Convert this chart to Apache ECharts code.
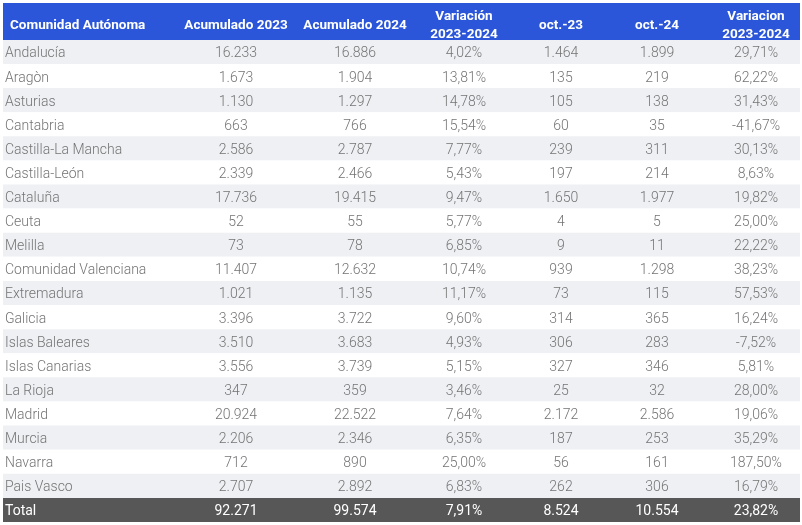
<!DOCTYPE html>
<html><head><meta charset="utf-8">
<script src="https://cdn.jsdelivr.net/npm/echarts@6/dist/echarts.min.js"></script>
<style>html,body{margin:0;padding:0;background:#fff}#c{width:802px;height:525px}</style>
</head><body><div id="c"></div>
<script>
const headers = ['Comunidad Autónoma','Acumulado 2023','Acumulado 2024','Variación\n2023-2024','oct.-23','oct.-24','Variacion\n2023-2024'];
const regions = ['Andalucía','Aragòn','Asturias','Cantabria','Castilla-La Mancha','Castilla-León','Cataluña','Ceuta','Melilla','Comunidad Valenciana','Extremadura','Galicia','Islas Baleares','Islas Canarias','La Rioja','Madrid','Murcia','Navarra','Pais Vasco','Total'];
const acum2023 = [16233,1673,1130,663,2586,2339,17736,52,73,11407,1021,3396,3510,3556,347,20924,2206,712,2707,92271];
const acum2024 = [16886,1904,1297,766,2787,2466,19415,55,78,12632,1135,3722,3683,3739,359,22522,2346,890,2892,99574];
const varAcum = [4.02,13.81,14.78,15.54,7.77,5.43,9.47,5.77,6.85,10.74,11.17,9.60,4.93,5.15,3.46,7.64,6.35,25.00,6.83,7.91];
const oct23 = [1464,135,105,60,239,197,1650,4,9,939,73,314,306,327,25,2172,187,56,262,8524];
const oct24 = [1899,219,138,35,311,214,1977,5,11,1298,115,365,283,346,32,2586,253,161,306,10554];
const varOct = [29.71,62.22,31.43,-41.67,30.13,8.63,19.82,25.00,22.22,38.23,57.53,16.24,-7.52,5.81,28.00,19.06,35.29,187.50,16.79,23.82];

// layout (styling, not data)
const colX = [2, 233, 352, 461, 558, 654, 753];
const headFirstX = 7;
const headerUnits = 1.53;
const totalWidth = 797;

function fmtInt(n){ const s=String(Math.abs(n)); const r=s.replace(/\B(?=(\d{3})+(?!\d))/g,'.'); return (n<0?'-':'')+r; }
function fmtPct(v){ return v.toFixed(2).replace('.',',')+'%'; }

const rows = [];
rows.push({value:[0,0], cells: headers, kind:'header'});
regions.forEach((r,i)=>{
  rows.push({value:[0,headerUnits+i], cells:[r, fmtInt(acum2023[i]), fmtInt(acum2024[i]), fmtPct(varAcum[i]), fmtInt(oct23[i]), fmtInt(oct24[i]), fmtPct(varOct[i])],
    kind: r==='Total' ? 'total' : (i%2===0 ? 'odd' : 'even')});
});

const bodyFont = "Roboto,'Noto Sans',sans-serif";
const headFont = "Roboto,'Noto Sans',sans-serif";

const chart = echarts.init(document.getElementById('c'), null, {renderer:'canvas'});
chart.setOption({
  animation:false,
  grid:{left:3,right:2,top:3,bottom:3},
  xAxis:{type:'value',min:0,max:totalWidth,show:false},
  yAxis:{type:'value',min:0,max:headerUnits+regions.length,inverse:true,show:false},
  series:[{
    type:'custom',
    data: rows,
    renderItem:function(params, api){
      const row = rows[params.dataIndex];
      const y0v = api.value(1);
      const h = row.kind==='header' ? headerUnits : 1;
      const p0 = api.coord([0,y0v]);
      const p1 = api.coord([totalWidth,y0v+h]);
      const x0=p0[0], y0=p0[1], x1=p1[0], y1=p1[1];
      let fill = '#ffffff', color='#747474', font=bodyFont, weight='300', size=14;
      if(row.kind==='header'){ fill='#2b56d9'; color='#ffffff'; font=headFont; weight='bold'; size=13.5; }
      else if(row.kind==='total'){ fill='#575757'; color='#ffffff'; weight='normal'; }
      else if(row.kind==='odd'){ fill='#eef0f3'; }
      const children=[{type:'rect',shape:{x:x0,y:y0,width:x1-x0,height:y1-y0},style:{fill:fill}}];
      const cy = row.kind==='header' ? y0+23 : (y0+y1)/2+2;
      row.cells.forEach((t,ci)=>{
        const xv = (row.kind==='header' && ci===0) ? headFirstX : colX[ci];
        const cx = api.coord([xv, y0v])[0];
        children.push({type:'text',x:cx,y:cy,style:{text:t,fill:color,font:weight+' '+size+'px '+font,
          align: ci===0?'left':'center', verticalAlign:'middle', lineHeight: row.kind==='header'?18:size}});
      });
      return {type:'group',children:children};
    }
  }]
});
</script></body></html>
